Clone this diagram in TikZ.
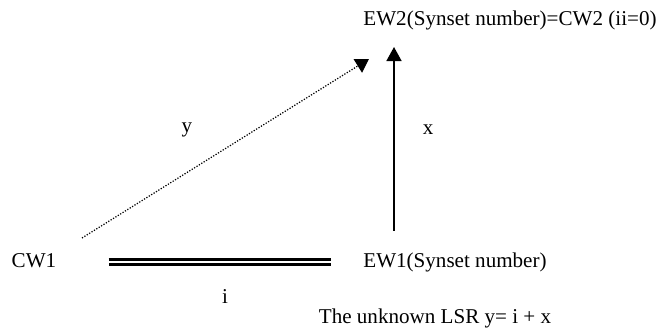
\documentclass[tikz,border=0pt]{standalone}
\usepackage{fontspec}
\setmainfont{Liberation Serif}
\usetikzlibrary{arrows.meta, positioning, calc}

\begin{document}
\begin{tikzpicture}[x=0.02cm, y=-0.02cm, font=\fontsize{12}{14}\selectfont,
  word/.style={inner sep=0pt},
  rel/.style={line width=1.1pt, -{Triangle[length=8pt,width=8.5pt]}},
  unknown/.style={line width=0.7pt, dash pattern=on 0.7pt off 0.9pt, -{Triangle[length=7.5pt,width=9pt]}},
  same/.style={double, line width=0.06cm, double distance=0.04cm}]
  \useasboundingbox (0,0) rectangle (659,330);
  % words
  \node[word] (cw1) at (34,261) {CW1};
  \node[word] (ew1) at (455,262) {EW1(Synset number)};
  \node[word] (ew2) at (510,20) {EW2(Synset number)=CW2 (ii=0)};
  \node[word] (lsr) at (435,318) {The unknown LSR y= i + x};
  % relations
  \draw[same, shorten <=52*0.02cm, shorten >=32*0.02cm] (cw1.east |- 0,262.5) -- (ew1.west |- 0,262.5);
  \node[word] (i) at (225,297) {i};
  \coordinate (xs) at (394,231);
  \coordinate (xe) at (394,47);
  \draw[rel] (xs) -- (xe) node[word, pos=0.55, right=28*0.02cm] (x) {x};
  \coordinate (ys) at (82,238);
  \coordinate (ye) at (369,59);
  \draw[unknown] (ys) -- (ye);
  \node[word] (y) at (187,130) {y};
\end{tikzpicture}
\end{document}
